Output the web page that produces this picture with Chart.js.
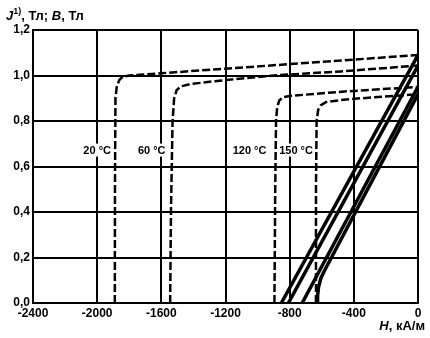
<!DOCTYPE html>
<html>
<head>
<meta charset="utf-8">
<style>
  html, body { margin: 0; background: #fff; }
</style>
<script src="https://cdn.jsdelivr.net/npm/chart.js@4/dist/chart.umd.min.js"></script>
</head>
<body>
<canvas id="bh" width="430" height="338"></canvas>
<script>
// Кривые размагничивания J(H), Тл — пунктир
const h20J = [-1890, -1889, -1886, -1878, -1862, -1840, -1800, -1600, -1200, -600, 0];
const j20 = [0, 0.5, 0.9, 0.95, 0.98, 0.995, 1.0, 1.01, 1.03, 1.06, 1.09];

const h60J = [-1545, -1540, -1530, -1520, -1505, -1480, -1420, -1270, -900, -480, 0];
const j60 = [0, 0.4, 0.8, 0.9, 0.935, 0.952, 0.962, 0.975, 1.0, 1.018, 1.044];

const h120J = [-895, -890, -885, -878, -865, -840, -800, -474, 0];
const j120 = [0, 0.5, 0.8, 0.86, 0.89, 0.905, 0.91, 0.929, 0.95];

const h150J = [-636, -636, -632, -622, -605, -575, -450, 0];
const j150 = [0, 0.5, 0.8, 0.85, 0.87, 0.883, 0.895, 0.918];

// Кривые B(H), Тл — сплошные
const h20B = [-852, 0];
const b20 = [0, 1.09];
const h60B = [-808, 0];
const b60 = [0, 1.044];
const h120B = [-722, 0];
const b120 = [0, 0.95];
const h150B = [-627, -626, -620, -605, -580, 0];
const b150 = [0, 0.03, 0.07, 0.11, 0.146, 0.918];

// Подписи температур
const tempLabels = ['20 °C', '60 °C', '120 °C', '150 °C'];
const tempLabelH = [-2000, -1660, -1050, -760];
const tempLabelJ = 0.67;

const hTicks = [-2400, -2000, -1600, -1200, -800, -400, 0];
const jTicks = [0, 0.2, 0.4, 0.6, 0.8, 1.0, 1.2];

const FONT = '"Liberation Sans", Arial, sans-serif';

function pts(hs, vs) {
  return hs.map((h, i) => ({ x: h, y: vs[i] }));
}

function jCurve(hs, vs) {
  return {
    data: pts(hs, vs),
    borderColor: '#000',
    borderWidth: 2.5,
    borderDash: [8, 3],
    pointRadius: 0,
    showLine: true,
    tension: 0
  };
}

function bCurve(hs, vs) {
  return {
    data: pts(hs, vs),
    borderColor: '#000',
    borderWidth: 3.5,
    pointRadius: 0,
    showLine: true,
    tension: 0
  };
}

// текст из кусков с разным начертанием
function drawParts(ctx, x, y, parts) {
  parts.forEach(p => {
    ctx.font = p.font;
    ctx.fillText(p.t, x, y + (p.dy || 0));
    x += ctx.measureText(p.t).width;
  });
}

function partsWidth(ctx, parts) {
  let w = 0;
  parts.forEach(p => { ctx.font = p.font; w += ctx.measureText(p.t).width; });
  return w;
}

const textPlugin = {
  id: 'bhText',
  afterDatasetsDraw(chart) {
    const ctx = chart.ctx;
    const xs = chart.scales.x, ys = chart.scales.y;
    ctx.save();
    ctx.fillStyle = '#000';
    ctx.textAlign = 'left';

    // подписи температур на белом фоне
    ctx.font = 'bold 11px ' + FONT;
    ctx.textBaseline = 'middle';
    tempLabels.forEach((t, i) => {
      const cx = xs.getPixelForValue(tempLabelH[i]);
      const cy = ys.getPixelForValue(tempLabelJ);
      const w = ctx.measureText(t).width;
      ctx.fillStyle = '#fff';
      ctx.fillRect(cx - w / 2 - 1, cy - 7, w + 2, 13);
      ctx.fillStyle = '#000';
      ctx.fillText(t, cx - w / 2, cy);
    });
    ctx.textBaseline = 'alphabetic';

    // заголовок оси J, B
    const reg = 'bold 13px ' + FONT;
    const ital = 'italic bold 13px ' + FONT;
    drawParts(ctx, 6, 20, [
      { t: 'J', font: ital },
      { t: '1)', font: 'bold 9px ' + FONT, dy: -6 },
      { t: ', Тл; ', font: reg },
      { t: 'B', font: ital },
      { t: ', Тл', font: reg }
    ]);

    // заголовок оси H
    const hParts = [
      { t: 'H', font: ital },
      { t: ', кА/м', font: reg }
    ];
    drawParts(ctx, 425 - partsWidth(ctx, hParts), 330, hParts);
    ctx.restore();
  }
};

const ctx = document.getElementById('bh').getContext('2d');

new Chart(ctx, {
  type: 'scatter',
  data: {
    datasets: [
      jCurve(h20J, j20),
      jCurve(h60J, j60),
      jCurve(h120J, j120),
      jCurve(h150J, j150),
      bCurve(h20B, b20),
      bCurve(h60B, b60),
      bCurve(h120B, b120),
      bCurve(h150B, b150)
    ]
  },
  options: {
    responsive: false,
    animation: false,
    layout: { padding: { left: 0, right: 12, top: 30, bottom: 0 } },
    plugins: {
      legend: { display: false },
      tooltip: { enabled: false }
    },
    scales: {
      x: {
        type: 'linear',
        min: -2400,
        max: 0,
        afterBuildTicks: s => { s.ticks = hTicks.map(v => ({ value: v })); },
        afterFit: s => { s.height = 35; },
        grid: { color: '#000', lineWidth: 2, drawTicks: false },
        border: { color: '#000', width: 2 },
        ticks: {
          color: '#000',
          padding: 3,
          maxRotation: 0,
          font: { family: FONT, size: 12, weight: 'bold' },
          callback: v => String(v)
        }
      },
      y: {
        type: 'linear',
        min: 0,
        max: 1.2,
        afterBuildTicks: s => { s.ticks = jTicks.map(v => ({ value: v })); },
        afterFit: s => { s.width = 33; },
        grid: { color: '#000', lineWidth: 2, drawTicks: false },
        border: { color: '#000', width: 2 },
        ticks: {
          color: '#000',
          padding: 3,
          font: { family: FONT, size: 12, weight: 'bold' },
          callback: v => v.toFixed(1).replace('.', ',')
        }
      }
    }
  },
  plugins: [textPlugin]
});
</script>
</body>
</html>
